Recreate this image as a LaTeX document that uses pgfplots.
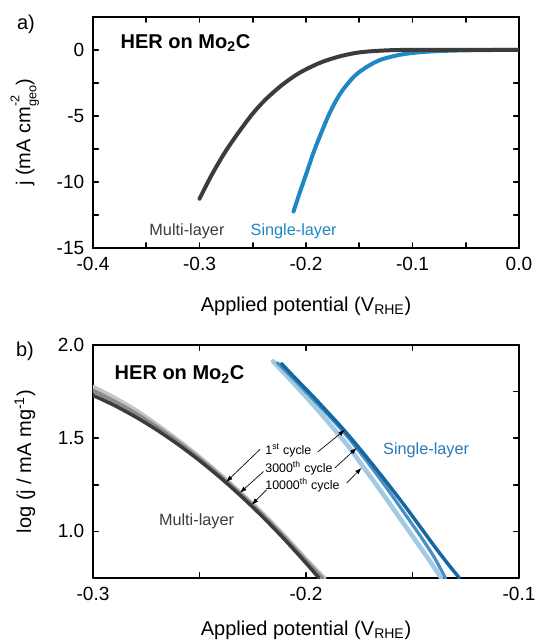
\documentclass[border=0pt]{standalone}
\usepackage{fontspec}
\setmainfont{Liberation Sans}
\usepackage{pgfplots}
\pgfplotsset{compat=1.18}
\usetikzlibrary{arrows.meta}

\definecolor{agray}{HTML}{3C3C3C}
\definecolor{ablue}{HTML}{1F87C2}
\definecolor{bgdark}{HTML}{3C3C3C}
\definecolor{bgmed}{HTML}{8A8A8A}
\definecolor{bglight}{HTML}{C4C4C4}
\definecolor{bbdark}{HTML}{16679F}
\definecolor{bbmed}{HTML}{4A90C4}
\definecolor{bblight}{HTML}{A2CAE4}
\definecolor{blabel}{HTML}{2A7AB5}

\newcommand{\supsub}[2]{\makebox[0pt][l]{\raisebox{0.55em}{\fontsize{9.5}{10}\selectfont #1}}\raisebox{-0.3em}{\fontsize{9.5}{10}\selectfont #2}}

\pgfplotsset{
  herstyle/.style={
    scale only axis, width=319.5pt,
    axis line style={line width=1.4pt},
    tick style={line width=1.2pt, black},
    major tick length=4pt, minor tick length=4pt,
    tick align=inside,
    minor x tick num=1, minor y tick num=1,
    tick label style={font=\fontsize{14.3}{16}\selectfont},
    xticklabel style={yshift=-3pt},
    yticklabel style={xshift=-3pt},
    line cap=round, line join=round,
  }
}

\begin{document}
\begin{tikzpicture}
\path[use as bounding box] (0,0) rectangle (402pt,-480pt);

% ---------------- panel a ----------------
\begin{axis}[herstyle, height=173.7pt,
  at={(69.75pt,-12.5pt)}, anchor=north west,
  xmin=-0.4, xmax=0, ymin=-15, ymax=2.5,
  xtick={-0.4,-0.3,-0.2,-0.1,0}, xticklabels={-0.4,-0.3,-0.2,-0.1,0.0},
  ytick={-15,-10,-5,0}, yticklabels={-15,-10,-5,0},
  xlabel={Applied potential (V\textsubscript{RHE})},
  ylabel={j (mA cm\supsub{-2}{geo})},
  every axis y label/.style={at={(axis description cs:-0.16,0.5)}, rotate=90, anchor=center, font=\fontsize{15}{18}\selectfont},
  every axis x label/.style={at={(axis description cs:0.5,-0.25)}, anchor=center, font=\fontsize{15}{18}\selectfont},
]
\addplot[ablue, line width=3pt, smooth, tension=0.5] coordinates {
(-0.2117,-12.22) (-0.206,-10.83) (-0.1995,-9.32) (-0.1931,-7.80) (-0.1851,-6.16)
(-0.177,-4.65) (-0.1674,-3.26) (-0.1546,-2.0) (-0.1418,-1.24) (-0.129,-0.73)
(-0.1097,-0.35) (-0.0873,-0.15) (-0.0552,-0.05) (0,0)};
\addplot[agray, line width=3pt, smooth, tension=0.5] coordinates {
(-0.300,-11.26) (-0.2893,-9.57) (-0.2765,-7.80) (-0.2637,-6.29) (-0.2508,-4.90)
(-0.238,-3.76) (-0.222,-2.63) (-0.206,-1.74) (-0.1867,-0.98) (-0.1674,-0.48)
(-0.148,-0.18) (-0.119,-0.03) (-0.08,-0.01) (0,0)};
\node[anchor=base west, font=\bfseries\fontsize{15}{18}\selectfont] at (axis description cs:0.054,0.864) {HER on Mo\textsubscript{2}C};
\node[anchor=base, font=\fontsize{12.2}{14}\selectfont, text=agray] at (axis description cs:0.2205,0.053) {Multi-layer};
\node[anchor=base, font=\fontsize{12.2}{14}\selectfont, text=ablue] at (axis description cs:0.471,0.053) {Single-layer};
\end{axis}

% ---------------- panel b ----------------
\begin{axis}[herstyle, height=174.75pt,
  at={(69.75pt,-258.75pt)}, anchor=north west,
  xmin=-0.3, xmax=-0.1, ymin=0.75, ymax=2.0,
  xtick={-0.3,-0.2,-0.1}, xticklabels={-0.3,-0.2,-0.1},
  ytick={1.0,1.5,2.0}, yticklabels={1.0,1.5,2.0},
  xlabel={Applied potential (V\textsubscript{RHE})},
  ylabel={log (j / mA mg\textsuperscript{-1})},
  every axis y label/.style={at={(axis description cs:-0.16,0.5)}, rotate=90, anchor=center, font=\fontsize{15}{18}\selectfont},
  every axis x label/.style={at={(axis description cs:0.5,-0.224)}, anchor=center, font=\fontsize{15}{18}\selectfont},
]
% multi-layer
\addplot[bglight, line width=3.4pt, smooth, tension=0.5] coordinates {
(-0.3,1.775) (-0.29,1.716) (-0.28,1.650) (-0.27,1.572) (-0.26,1.488) (-0.25,1.398)
(-0.24,1.301) (-0.23,1.199) (-0.22,1.091) (-0.21,0.974) (-0.2,0.850) (-0.1915,0.75)};
\addplot[bgmed, line width=3pt, smooth, tension=0.5] coordinates {
(-0.3,1.755) (-0.29,1.697) (-0.28,1.633) (-0.27,1.559) (-0.26,1.478) (-0.25,1.39)
(-0.24,1.294) (-0.23,1.192) (-0.22,1.083) (-0.21,0.966) (-0.2,0.841) (-0.1925,0.75)};
\addplot[bgdark, line width=2.6pt, smooth, tension=0.5] coordinates {
(-0.3,1.730) (-0.29,1.676) (-0.28,1.614) (-0.27,1.544) (-0.26,1.466) (-0.25,1.380)
(-0.24,1.286) (-0.23,1.184) (-0.22,1.074) (-0.21,0.956) (-0.2,0.830) (-0.194,0.751)};
% single-layer
\addplot[bblight, line width=3.4pt, smooth, tension=0.5] coordinates {
(-0.2155,1.913) (-0.208,1.822) (-0.2,1.722) (-0.193,1.632) (-0.186,1.538)
(-0.179,1.44) (-0.174,1.36) (-0.166,1.235) (-0.158,1.105) (-0.15,0.975)
(-0.143,0.86) (-0.1365,0.75)};
\addplot[bbmed, line width=2.4pt, smooth, tension=0.5] coordinates {
(-0.2135,1.905) (-0.206,1.82) (-0.198,1.725) (-0.1905,1.635) (-0.183,1.542)
(-0.1765,1.451) (-0.169,1.34) (-0.161,1.215) (-0.153,1.085) (-0.146,0.97)
(-0.14,0.865) (-0.1345,0.75)};
\addplot[bbdark, line width=2.6pt, smooth, tension=0.5] coordinates {
(-0.2115,1.90) (-0.205,1.822) (-0.197,1.728) (-0.19,1.642) (-0.1825,1.548)
(-0.175,1.447) (-0.165,1.305) (-0.155,1.158) (-0.148,1.05) (-0.14,0.925)
(-0.134,0.835) (-0.128,0.75)};
% annotations
\node[anchor=base west, font=\bfseries\fontsize{15}{18}\selectfont] at (axis description cs:0.04,0.85) {HER on Mo\textsubscript{2}C};
\node[anchor=base, font=\fontsize{12.2}{14}\selectfont, text=bgdark] at (axis description cs:0.243,0.227) {Multi-layer};
\node[anchor=base, font=\fontsize{12.2}{14}\selectfont, text=blabel] at (axis description cs:0.782,0.528) {Single-layer};
\begin{scope}[font=\fontsize{9.3}{11}\selectfont]
\node[anchor=base west, inner sep=0pt] at (axis description cs:0.404,0.528) {1\textsuperscript{st} cycle};
\node[anchor=base west, inner sep=0pt] at (axis description cs:0.404,0.454) {3000\textsuperscript{th} cycle};
\node[anchor=base west, inner sep=0pt] at (axis description cs:0.404,0.381) {10000\textsuperscript{th} cycle};
\end{scope}
\begin{scope}[line width=0.5pt, -{Latex[length=5pt,width=3.5pt]}]
\draw (axis cs:-0.2216,1.44) -- (axis cs:-0.2375,1.265);
\draw (axis cs:-0.1944,1.427) -- (axis cs:-0.1817,1.545);
\draw (axis cs:-0.2200,1.321) -- (axis cs:-0.2310,1.207);
\draw (axis cs:-0.1864,1.341) -- (axis cs:-0.1762,1.448);
\draw (axis cs:-0.2185,1.223) -- (axis cs:-0.2255,1.143);
\draw (axis cs:-0.1809,1.26) -- (axis cs:-0.1739,1.341);
\end{scope}
\end{axis}

\node[font=\fontsize{15}{18}\selectfont] at (19.5pt,-18pt) {a)};
\node[font=\fontsize{15}{18}\selectfont] at (18.75pt,-263.25pt) {b)};
\end{tikzpicture}
\end{document}
